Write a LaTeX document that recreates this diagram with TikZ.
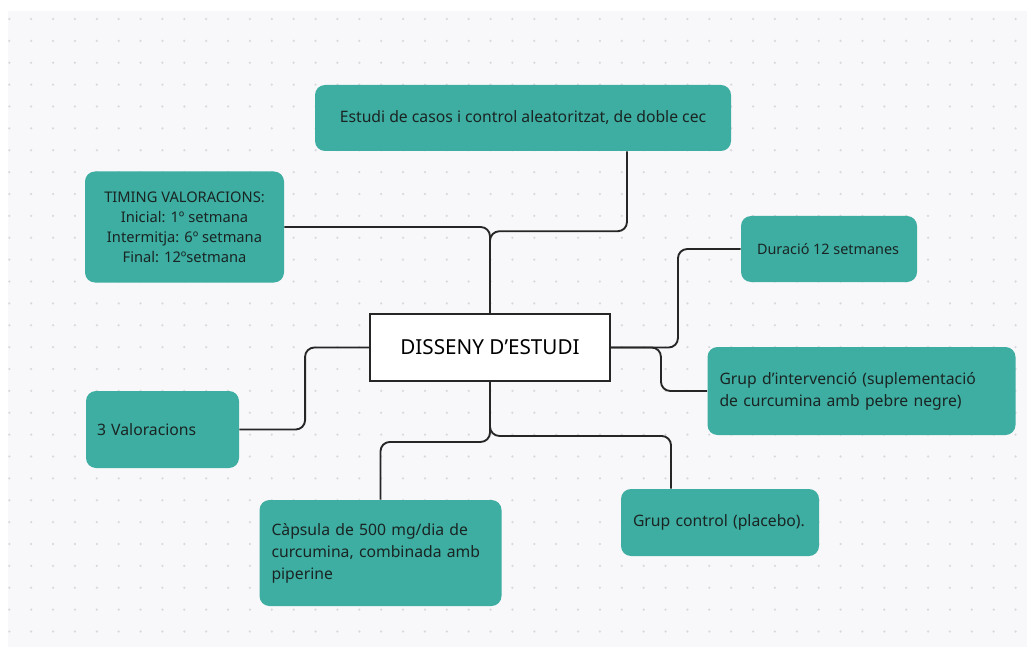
\documentclass[tikz,border=0pt]{standalone}
\usepackage{fontspec}
\setmainfont{Noto Sans}
\usetikzlibrary{calc}
\definecolor{cTeal}{HTML}{3DAEA1}
\definecolor{cInk}{HTML}{1A2423}
\definecolor{cPaper}{HTML}{F8F8FA}
\definecolor{cDot}{HTML}{D9D9DE}

\begin{document}
\begin{tikzpicture}[x=0.75pt, y=-0.75pt,
      card/.style={fill=cTeal, rounded corners=7.5pt, text=cInk, inner sep=0pt,
        font=\fontsize{11.8}{16.5}\selectfont},
      leftcard/.style={card, align=left, inner xsep=#1},
      link/.style={draw=black!85, line width=1.4pt, rounded corners=7pt}]
    % background with dot grid
    \useasboundingbox (0,0) rectangle (1027,652);
    \fill[cPaper] (8,11) rectangle (1027,647);
    \foreach \i in {0,...,46}
      \foreach \j in {0,...,28}
        \fill[cDot] (9.3+\i*21.875, 19+\j*21.875) circle[radius=0.95pt];

    % central box
    \node[draw=black!85, line width=1.4pt, fill=white, minimum width=180pt, minimum height=50.25pt,
      font=\fontsize{15.5}{18}\selectfont] (hub) at (490,347.5) {DISSENY D’ESTUDI};

    % surrounding cards
    \node[card, minimum width=312pt, minimum height=49.5pt] (study) at (523,118)
      {Estudi de casos i control aleatoritzat, de doble cec};
    \node[card, align=center, minimum width=149.25pt, minimum height=83.25pt,
      font=\fontsize{11}{15}\selectfont] (timing) at (184.5,227)
      {TIMING VALORACIONS:\\Inicial: 1º setmana\\Intermitja: 6º setmana\\Final: 12ºsetmana};
    \node[card, minimum width=132pt, minimum height=49.5pt,
      font=\fontsize{10.8}{15}\selectfont] (dur) at (829,249)
      {\makebox[108pt][l]{Duració 12 setmanes}};
    \node[leftcard=9pt, text width=213pt, minimum height=66pt] (interv) at (861.5,391)
      {Grup d’intervenció (suplementació\\de curcumina amb pebre negre)};
    \node[leftcard=8.25pt, text width=98.25pt, minimum height=57.75pt] (val) at (162.5,429.5)
      {3 Valoracions};
    \node[leftcard=9pt, text width=163.5pt, minimum height=79.5pt] (caps) at (380.5,553)
      {Càpsula de 500 mg/dia de\\curcumina, combinada amb\\piperine};
    \node[leftcard=9pt, text width=130.5pt, minimum height=50.25pt] (ctrl) at (720,522.5)
      {Grup control (placebo).};

    % connectors
    \draw[link] ($(study.south)+(104,0)$) -- ++(0,80) -| (hub.north);
    \draw[link] (timing.east) -| (hub.north);
    \draw[link] (hub.east) -- ++(67,0) |- (dur.west);
    \draw[link] (hub.east) -- ++(50,0) |- (interv.west);
    \draw[link] (hub.west) -- ++(-64,0) |- (val.east);
    \draw[link] (hub.south) -- ++(0,60) -| (caps.north);
    \draw[link] (hub.south) -- ++(0,54) -| ($(ctrl.north)+(-49,0)$);
  \end{tikzpicture}
\end{document}
